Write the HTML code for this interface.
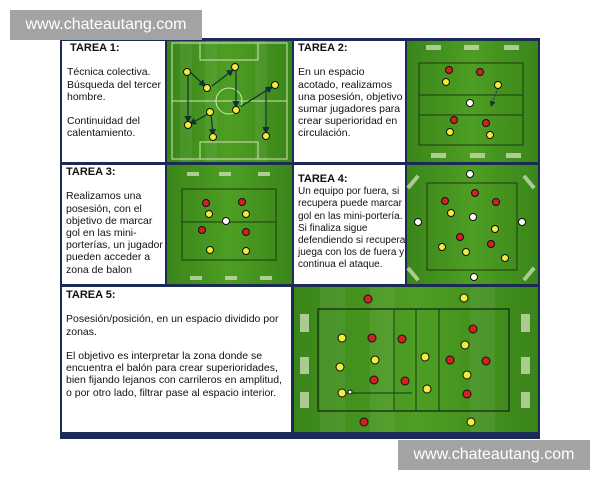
<!DOCTYPE html>
<html><head><meta charset="utf-8"><style>
html,body{margin:0;padding:0;background:#fff;width:600px;height:480px;overflow:hidden;position:relative;font-family:"Liberation Sans",Arial,sans-serif}
.wm{position:absolute;background:#a3a3a3;color:#fff;font-size:16px;line-height:30px;text-align:center}
.t{position:absolute;font-size:10.5px;line-height:12.2px;color:#111}
.t b{font-size:11px}
</style></head><body>
<svg width="600" height="480" style="position:absolute;left:0;top:0">
<defs>
<linearGradient id="g" x1="0" x2="1" y1="0" y2="0">
<stop offset="0" stop-color="#3a8519"/><stop offset="0.5" stop-color="#4e9e24"/><stop offset="1" stop-color="#3a8519"/>
</linearGradient>
<marker id="a" markerWidth="6" markerHeight="6" refX="5" refY="3" orient="auto"><path d="M0,0L6,3L0,6z" fill="#133"/></marker>
</defs>
<rect x="60" y="38" width="480" height="401" fill="#1b2b55"/>
<rect x="62" y="41" width="103" height="121" fill="#fff"/>
<rect x="294" y="41" width="111" height="121" fill="#fff"/>
<rect x="62" y="165" width="103" height="119" fill="#fff"/>
<rect x="294" y="165" width="111" height="119" fill="#fff"/>
<rect x="62" y="287" width="229" height="145" fill="#fff"/>
<g fill="url(#g)">
<rect x="167" y="41" width="125" height="121"/>
<rect x="407" y="41" width="131" height="121"/>
<rect x="167" y="165" width="125" height="119"/>
<rect x="407" y="165" width="131" height="119"/>
<rect x="294" y="287" width="244" height="145"/>
</g>
<g fill="#fff" opacity="0.06">
<rect x="180" y="41" width="12" height="121"/><rect x="205" y="41" width="12" height="121"/><rect x="255" y="41" width="12" height="121"/>
<rect x="320" y="287" width="25" height="145"/><rect x="370" y="287" width="25" height="145"/><rect x="470" y="287" width="25" height="145"/>
</g>
<g stroke="#cfe8b0" stroke-width="1" fill="none">
<rect x="172" y="43" width="115" height="116"/>
<line x1="172" y1="101" x2="287" y2="101"/>
<circle cx="229" cy="101" r="13"/>
<rect x="200" y="43" width="58" height="17"/><rect x="200" y="142" width="58" height="17"/>
</g>
<g stroke="#133" stroke-width="1.2" marker-end="url(#a)">
<line x1="188" y1="74" x2="188" y2="122"/><line x1="190" y1="72" x2="205" y2="86"/>
<line x1="212" y1="86" x2="233" y2="70"/><line x1="236" y1="70" x2="236" y2="107"/>
<line x1="240" y1="107" x2="272" y2="87"/><line x1="266" y1="88" x2="266" y2="133"/>
<line x1="208" y1="114" x2="190" y2="124"/><line x1="211" y1="114" x2="213" y2="135"/>
</g>
<g stroke="#1c3a10" stroke-width="1" fill="none">
<rect x="419" y="63" width="104" height="82"/><line x1="419" y1="95" x2="523" y2="95"/><line x1="419" y1="115" x2="523" y2="115"/>
<rect x="182" y="189" width="94" height="71"/><line x1="182" y1="222" x2="276" y2="222"/>
<rect x="427" y="183" width="90" height="87"/>
<rect x="318" y="309" width="191" height="102" stroke-width="1.5"/>
<line x1="394" y1="309" x2="394" y2="411"/><line x1="416" y1="309" x2="416" y2="411"/><line x1="439" y1="309" x2="439" y2="411"/>
<line x1="344" y1="393" x2="412" y2="393" stroke="#133"/>
</g>
<line x1="498" y1="88" x2="491" y2="106" stroke="#133" stroke-dasharray="2,1.5" marker-end="url(#a)"/>
<g fill="#c8dcb0" opacity="0.8">
<rect x="426" y="45" width="15" height="5"/><rect x="464" y="45" width="15" height="5"/><rect x="504" y="45" width="15" height="5"/>
<rect x="431" y="153" width="15" height="5"/><rect x="470" y="153" width="15" height="5"/><rect x="506" y="153" width="15" height="5"/>
<rect x="187" y="172" width="12" height="4"/><rect x="219" y="172" width="12" height="4"/><rect x="258" y="172" width="12" height="4"/>
<rect x="190" y="276" width="12" height="4"/><rect x="225" y="276" width="12" height="4"/><rect x="260" y="276" width="12" height="4"/>
<rect x="300" y="314" width="9" height="18"/><rect x="300" y="357" width="9" height="17"/><rect x="300" y="392" width="9" height="16"/>
<rect x="521" y="314" width="9" height="18"/><rect x="521" y="357" width="9" height="17"/><rect x="521" y="392" width="9" height="16"/>
<rect x="411" y="174" width="4" height="16" transform="rotate(40 413 182)"/><rect x="527" y="174" width="4" height="16" transform="rotate(-40 529 182)"/>
<rect x="411" y="266" width="4" height="16" transform="rotate(-40 413 274)"/><rect x="527" y="266" width="4" height="16" transform="rotate(40 529 274)"/>
</g>
<g stroke="#111" stroke-width="1">
<g fill="#f2ec3a">
<circle cx="187" cy="72" r="3.5"/><circle cx="235" cy="67" r="3.5"/><circle cx="207" cy="88" r="3.5"/><circle cx="210" cy="112" r="3.5"/><circle cx="275" cy="85" r="3.5"/><circle cx="236" cy="110" r="3.5"/><circle cx="188" cy="125" r="3.5"/><circle cx="213" cy="137" r="3.5"/><circle cx="266" cy="136" r="3.5"/>
<circle cx="446" cy="82" r="3.5"/><circle cx="498" cy="85" r="3.5"/><circle cx="450" cy="132" r="3.5"/><circle cx="490" cy="135" r="3.5"/>
<circle cx="209" cy="214" r="3.5"/><circle cx="246" cy="214" r="3.5"/><circle cx="210" cy="250" r="3.5"/><circle cx="246" cy="251" r="3.5"/>
<circle cx="451" cy="213" r="3.5"/><circle cx="495" cy="229" r="3.5"/><circle cx="442" cy="247" r="3.5"/><circle cx="466" cy="252" r="3.5"/><circle cx="505" cy="258" r="3.5"/>
<circle cx="464" cy="298" r="4"/><circle cx="342" cy="338" r="4"/><circle cx="375" cy="360" r="4"/><circle cx="340" cy="367" r="4"/><circle cx="425" cy="357" r="4"/><circle cx="427" cy="389" r="4"/><circle cx="465" cy="345" r="4"/><circle cx="467" cy="375" r="4"/><circle cx="342" cy="393" r="4"/><circle cx="471" cy="422" r="4"/>
</g>
<g fill="#d42020">
<circle cx="449" cy="70" r="3.5"/><circle cx="480" cy="72" r="3.5"/><circle cx="454" cy="120" r="3.5"/><circle cx="486" cy="123" r="3.5"/>
<circle cx="206" cy="203" r="3.5"/><circle cx="242" cy="202" r="3.5"/><circle cx="202" cy="230" r="3.5"/><circle cx="246" cy="232" r="3.5"/>
<circle cx="445" cy="201" r="3.5"/><circle cx="475" cy="193" r="3.5"/><circle cx="496" cy="202" r="3.5"/><circle cx="460" cy="237" r="3.5"/><circle cx="491" cy="244" r="3.5"/>
<circle cx="368" cy="299" r="4"/><circle cx="372" cy="338" r="4"/><circle cx="374" cy="380" r="4"/><circle cx="402" cy="339" r="4"/><circle cx="405" cy="381" r="4"/><circle cx="473" cy="329" r="4"/><circle cx="450" cy="360" r="4"/><circle cx="486" cy="361" r="4"/><circle cx="467" cy="394" r="4"/><circle cx="364" cy="422" r="4"/>
</g>
<g fill="#fff">
<circle cx="470" cy="103" r="3.5"/><circle cx="226" cy="221" r="3.5"/>
<circle cx="470" cy="174" r="3.5"/><circle cx="418" cy="222" r="3.5"/><circle cx="522" cy="222" r="3.5"/><circle cx="473" cy="217" r="3.5"/><circle cx="474" cy="277" r="3.5"/>
<circle cx="350" cy="392" r="2"/>
</g>
</g>
</svg>
<div class="wm" style="left:10px;top:10px;width:192px">www.chateautang.com</div>
<div class="wm" style="left:398px;top:440px;width:192px">www.chateautang.com</div>
<div class="t" style="left:67px;top:42px;width:98px"><b>&nbsp;TAREA 1:</b><br><br>Técnica colectiva. Búsqueda del tercer hombre.<br><br>Continuidad del calentamiento.</div>
<div class="t" style="left:298px;top:42px;width:106px"><b>TAREA 2:</b><br><br>En un espacio acotado, realizamos una posesión, objetivo sumar jugadores para crear superioridad en circulación.</div>
<div class="t" style="left:66px;top:166px;width:98px"><b>TAREA 3:</b><br><br>Realizamos una posesión, con el objetivo de marcar gol en las mini-porterías, un jugador pueden acceder a zona de balon</div>
<div class="t" style="left:298px;top:173px;width:108px;font-size:10px;line-height:12.2px"><b>TAREA 4:</b><br>Un equipo por fuera, si recupera puede marcar gol en las mini-portería. Si finaliza sigue defendiendo si recupera juega con los de fuera y continua el ataque.</div>
<div class="t" style="left:66px;top:289px;width:222px"><b>TAREA 5:</b><br><br>Posesión/posición, en un espacio dividido por zonas.<br><br>El objetivo es interpretar la zona donde se encuentra el balón para crear superioridades, bien fijando lejanos con carrileros en amplitud, o por otro lado, filtrar pase al espacio interior.</div>
</body></html>
